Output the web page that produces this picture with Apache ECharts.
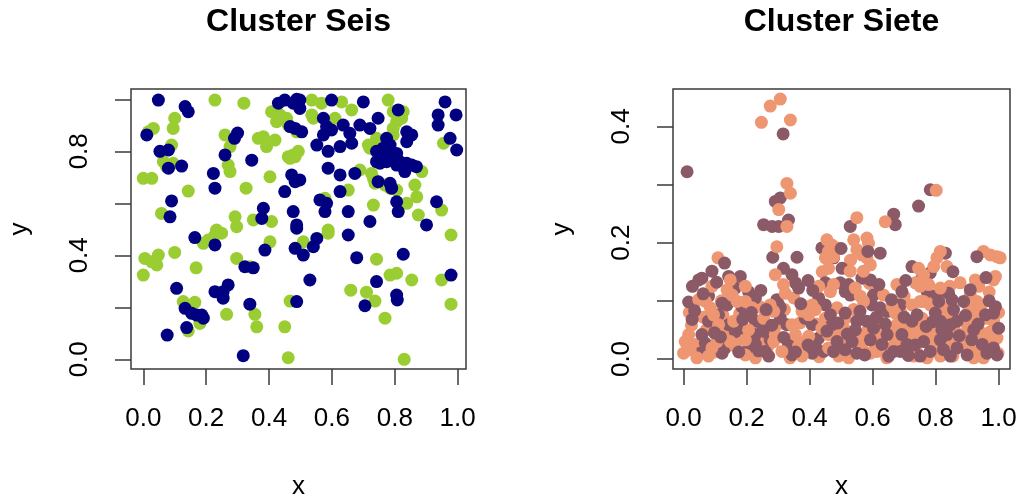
<!DOCTYPE html>
<html>
<head>
<meta charset="utf-8">
<script src="https://cdn.jsdelivr.net/npm/echarts@6/dist/echarts.min.js"></script>
<style>html,body{margin:0;padding:0;background:#fff;}#c{width:1019px;height:502px;}</style>
</head>
<body>
<div id="c"></div>
<script>
const titles = ['Cluster Seis', 'Cluster Siete'];
const xTicks = [0, 0.2, 0.4, 0.6, 0.8, 1.0];
const seisYTicks = [0, 0.2, 0.4, 0.6, 0.8, 1.0];
const seisYLabels = [0, 0.4, 0.8];
const sieteYTicks = [0, 0.1, 0.2, 0.3, 0.4];
const sieteYLabels = [0, 0.2, 0.4];

const seisNavy = [[0.048,0.997],[0.133,0.972],[0.143,0.952],[0.011,0.863],[0.053,0.80],[0.08,0.805],[0.08,0.735],[0.122,0.743],[0.30,0.87],[0.29,0.85],[0.26,0.786],[0.345,0.766],[0.223,0.715],[0.228,0.658],[0.09,0.609],[0.085,0.548],[0.382,0.581],[0.377,0.542],[0.43,0.985],[0.45,0.997],[0.488,1.0],[0.467,0.895],[0.472,0.709],[0.483,0.683],[0.45,0.645],[0.477,0.568],[0.488,0.517],
[0.498,0.997],[0.477,0.985],[0.498,0.965],[0.599,0.997],[0.70,0.99],[0.573,0.927],[0.483,0.888],[0.504,0.875],[0.583,0.895],[0.599,0.882],[0.573,0.863],[0.552,0.824],[0.636,0.901],[0.689,0.901],[0.721,0.888],[0.747,0.927],[0.657,0.869],[0.663,0.831],[0.626,0.818],[0.588,0.80],[0.811,0.959],[0.838,0.875],[0.854,0.863],[0.838,0.837],[0.774,0.85],[0.785,0.824],[0.742,0.80],[0.763,0.812],[0.785,0.786],[0.753,0.779],[0.742,0.76],[0.774,0.76],[0.806,0.792],[0.816,0.76],[0.838,0.754],[0.854,0.747],[0.869,0.741],[0.832,0.722],[0.806,0.747],[0.753,0.754],[0.96,0.99],[0.938,0.94],[0.995,0.94],[0.938,0.901],[0.976,0.85],[0.997,0.805],[0.588,0.735],[0.626,0.709],[0.673,0.715],[0.498,0.69],[0.626,0.645],[0.747,0.683],[0.785,0.677],[0.79,0.658],[0.806,0.606],[0.811,0.568],[0.562,0.613],[0.583,0.60],[0.578,0.568],[0.652,0.568],[0.933,0.606],[0.721,0.53],[0.901,0.517],
[0.164,0.468],[0.228,0.44],[0.387,0.42],[0.483,0.427],[0.488,0.504],[0.323,0.356],[0.35,0.352],[0.106,0.273],[0.228,0.26],[0.254,0.235],[0.27,0.286],[0.254,0.26],[0.339,0.212],[0.133,0.196],[0.154,0.177],[0.17,0.17],[0.191,0.158],[0.186,0.17],[0.138,0.122],[0.076,0.093],[0.318,0.014],[0.488,0.222],
[0.552,0.465],[0.541,0.433],[0.509,0.401],[0.652,0.478],[0.679,0.391],[0.827,0.404],[0.53,0.305],[0.742,0.299],[0.806,0.247],[0.808,0.228],[0.705,0.206],[0.979,0.324]];

const seisGreen = [[0.228,0.997],[0.32,0.985],[0.10,0.927],[0.095,0.888],[0.032,0.888],[0.016,0.875],[0.09,0.824],[0.064,0.76],[0.095,0.754],[0.074,0.741],[0.0,0.696],[0.027,0.696],[0.143,0.647],[0.058,0.561],[0.26,0.863],[0.276,0.818],[0.27,0.747],[0.276,0.722],[0.366,0.85],[0.382,0.856],[0.392,0.818],[0.419,0.843],[0.403,0.702],[0.327,0.658],[0.408,0.952],[0.435,0.94],[0.456,0.927],[0.424,0.914],[0.461,0.901],[0.461,0.779],[0.477,0.786],[0.292,0.548],[0.35,0.536],[0.408,0.53],[0.297,0.51],[0.233,0.497],
[0.536,0.997],[0.567,0.985],[0.631,0.99],[0.663,0.959],[0.779,0.997],[0.795,0.952],[0.827,0.952],[0.822,0.927],[0.806,0.914],[0.536,0.94],[0.541,0.927],[0.61,0.927],[0.488,0.875],[0.795,0.888],[0.795,0.863],[0.742,0.85],[0.732,0.824],[0.721,0.812],[0.716,0.824],[0.493,0.80],[0.483,0.779],[0.467,0.773],[0.955,0.831],[0.689,0.728],[0.726,0.715],[0.732,0.696],[0.737,0.677],[0.652,0.651],[0.769,0.67],[0.785,0.658],[0.806,0.651],[0.864,0.67],[0.87,0.625],[0.886,0.722],[0.578,0.619],[0.732,0.593],[0.838,0.60],[0.875,0.555],[0.949,0.574],[0.588,0.497],
[0.005,0.388],[0.027,0.375],[0.048,0.401],[0.043,0.363],[0.0,0.324],[0.10,0.411],[0.168,0.352],[0.191,0.446],[0.207,0.459],[0.228,0.478],[0.249,0.485],[0.403,0.452],[0.297,0.388],[0.339,0.356],[0.127,0.222],[0.164,0.219],[0.18,0.138],[0.143,0.109],[0.265,0.173],[0.355,0.173],[0.361,0.125],[0.45,0.125],[0.467,0.224],[0.461,0.006],
[0.588,0.485],[0.509,0.452],[0.742,0.385],[0.785,0.324],[0.806,0.331],[0.854,0.305],[0.949,0.305],[0.66,0.266],[0.71,0.258],[0.737,0.224],[0.769,0.158],[0.979,0.478],[0.979,0.212],[0.83,0.0]];

const sieteDark = [[0.316,0.387],[0.011,0.322],[0.291,0.271],[0.307,0.277],[0.254,0.231],[0.281,0.228],[0.302,0.228],[0.333,0.239],[0.783,0.291],[0.746,0.263],[0.529,0.228],[0.667,0.249],[0.672,0.231],
[0.283,0.175],[0.09,0.151],[0.058,0.139],[0.048,0.136],[0.143,0.142],[0.18,0.142],[0.164,0.122],[0.317,0.156],[0.344,0.145],[0.355,0.131],[0.365,0.122],[0.302,0.093],[0.439,0.191],[0.45,0.131],
[0.016,0.098],[0.027,0.068],[0.058,0.042],[0.069,0.027],[0.053,0.010],[0.079,0.065],[0.111,0.076],[0.122,0.096],[0.138,0.093],[0.143,0.059],[0.164,0.047],[0.18,0.053],[0.132,0.019],[0.122,0.010],[0.185,0.090],[0.196,0.076],[0.228,0.065],[0.249,0.059],[0.228,0.042],[0.206,0.019],[0.228,0.025],[0.259,0.047],[0.275,0.033],[0.259,0.013],[0.27,0.005],[0.307,0.070],[0.328,0.059],[0.333,0.025],[0.344,0.007],[0.386,0.070],[0.408,0.059],[0.429,0.105],[0.45,0.093],[0.429,0.036],[0.418,0.022],[0.408,0.010],[0.444,0.013],[0.471,0.059],[0.466,0.076],[0.296,0.102],[0.307,0.088],[0.206,0.116],[0.228,0.105],[0.079,0.108],
[0.624,0.182],[0.476,0.174],[0.503,0.156],[0.566,0.139],[0.593,0.136],[0.524,0.128],[0.497,0.131],[0.513,0.116],[0.529,0.110],[0.603,0.110],[0.598,0.093],[0.624,0.088],[0.646,0.082],[0.688,0.093],[0.725,0.159],[0.757,0.139],[0.783,0.148],[0.831,0.182],[0.773,0.116],[0.804,0.110],[0.841,0.113],[0.852,0.102],[0.889,0.099],[0.910,0.119],[0.931,0.176],[0.958,0.076],[0.984,0.079],[1.0,0.053],[0.984,0.019],[0.995,0.007],[0.963,0.010],[0.921,0.050],[0.915,0.033],[0.868,0.065],[0.847,0.059],[0.868,0.019],[0.9,0.007],[0.81,0.099],[0.799,0.079],[0.815,0.065],[0.836,0.042],[0.815,0.033],[0.762,0.030],[0.783,0.013],[0.751,0.005],[0.825,0.016],[0.847,0.005],[0.741,0.076],[0.725,0.065],[0.693,0.042],[0.709,0.025],[0.688,0.013],[0.646,0.042],[0.63,0.025],[0.651,0.005],[0.667,0.013],[0.603,0.053],[0.582,0.065],[0.593,0.033],[0.55,0.065],[0.545,0.050],[0.535,0.030],[0.55,0.010],[0.487,0.030],[0.476,0.013],[0.513,0.016],[0.513,0.079],[0.693,0.116],
[0.035,0.083],[0.062,0.112],[0.098,0.045],[0.117,0.038],[0.175,0.012],[0.188,0.068],[0.215,0.080],[0.238,0.014],[0.262,0.085],[0.28,0.058],[0.318,0.037],[0.355,0.012],[0.372,0.095],[0.395,0.024],[0.41,0.118],[0.455,0.048],[0.49,0.062],[0.52,0.043],[0.56,0.082],[0.575,0.007],[0.612,0.072],[0.64,0.060],[0.66,0.102],[0.7,0.072],[0.713,0.006],[0.735,0.024],[0.77,0.056],[0.79,0.064],[0.82,0.050],[0.857,0.085],[0.875,0.040],[0.895,0.075],[0.935,0.060],[0.948,0.025],[0.97,0.100],[0.99,0.090],[0.028,0.125],[0.105,0.132],[0.245,0.118],[0.395,0.135],[0.62,0.128],[0.705,0.135],[0.855,0.150],[0.96,0.140],[0.13,0.165],[0.36,0.175],[0.5,0.19],[0.585,0.185]];

const sieteSalmon = [[0.307,0.447],[0.275,0.435],[0.247,0.407],[0.339,0.411],[0.328,0.302],[0.339,0.285],[0.302,0.257],[0.328,0.228],[0.802,0.29],[0.55,0.243],[0.64,0.236],
[0.296,0.193],[0.109,0.174],[0.09,0.125],[0.148,0.136],[0.196,0.125],[0.291,0.145],[0.317,0.128],[0.323,0.113],[0.286,0.082],[0.455,0.205],[0.46,0.185],[0.45,0.174],[0.46,0.156],[0.429,0.125],
[0.048,0.102],[0.069,0.099],[0.016,0.042],[0.005,0.030],[0.0,0.010],[0.021,0.016],[0.042,0.002],[0.085,0.088],[0.095,0.076],[0.111,0.059],[0.106,0.030],[0.154,0.110],[0.17,0.099],[0.159,0.065],[0.148,0.030],[0.164,0.022],[0.09,0.019],[0.079,0.005],[0.196,0.099],[0.217,0.088],[0.206,0.050],[0.196,0.033],[0.196,0.007],[0.228,0.002],[0.254,0.070],[0.291,0.042],[0.286,0.030],[0.312,0.013],[0.344,0.059],[0.355,0.042],[0.365,0.022],[0.376,0.005],[0.386,0.090],[0.397,0.076],[0.408,0.093],[0.418,0.085],[0.439,0.053],[0.46,0.042],[0.397,0.039],[0.46,0.019],[0.476,0.013],[0.376,0.082],[0.275,0.093],[0.138,0.119],
[0.54,0.205],[0.582,0.208],[0.587,0.199],[0.55,0.188],[0.566,0.179],[0.582,0.174],[0.593,0.162],[0.471,0.196],[0.487,0.191],[0.476,0.176],[0.529,0.151],[0.571,0.151],[0.476,0.128],[0.466,0.116],[0.545,0.122],[0.561,0.108],[0.571,0.099],[0.635,0.110],[0.662,0.090],[0.672,0.079],[0.725,0.093],[0.751,0.099],[0.746,0.156],[0.762,0.145],[0.736,0.131],[0.751,0.125],[0.794,0.159],[0.804,0.174],[0.815,0.185],[0.836,0.159],[0.778,0.128],[0.815,0.122],[0.762,0.099],[0.783,0.093],[0.878,0.131],[0.926,0.136],[0.937,0.125],[0.910,0.110],[0.931,0.099],[0.952,0.185],[0.974,0.179],[0.995,0.176],[1.005,0.174],[0.99,0.142],[0.984,0.136],[0.942,0.088],[0.963,0.070],[0.984,0.065],[0.974,0.047],[0.963,0.033],[0.995,0.036],[0.952,0.002],[0.9,0.059],[0.889,0.042],[0.931,0.082],[0.905,0.088],[0.863,0.047],[0.884,0.022],[0.921,0.002],[0.931,0.013],[0.825,0.088],[0.836,0.070],[0.804,0.047],[0.783,0.042],[0.794,0.025],[0.773,0.002],[0.815,0.005],[0.736,0.059],[0.746,0.042],[0.72,0.047],[0.677,0.059],[0.704,0.056],[0.72,0.013],[0.73,0.005],[0.672,0.030],[0.656,0.019],[0.624,0.042],[0.614,0.013],[0.571,0.042],[0.566,0.019],[0.593,0.010],[0.513,0.070],[0.508,0.053],[0.503,0.036],[0.492,0.005],[0.524,0.002],[0.487,0.088],[0.677,0.128],
[0.025,0.058],[0.038,0.025],[0.062,0.072],[0.072,0.050],[0.1,0.012],[0.125,0.075],[0.13,0.045],[0.178,0.078],[0.185,0.035],[0.212,0.012],[0.24,0.035],[0.242,0.090],[0.268,0.022],[0.3,0.060],[0.32,0.085],[0.338,0.002],[0.37,0.062],[0.385,0.030],[0.42,0.060],[0.43,0.004],[0.45,0.070],[0.48,0.048],[0.5,0.022],[0.54,0.085],[0.555,0.035],[0.585,0.050],[0.605,0.028],[0.63,0.068],[0.645,0.002],[0.66,0.045],[0.69,0.080],[0.715,0.038],[0.742,0.010],[0.757,0.070],[0.792,0.106],[0.81,0.078],[0.845,0.028],[0.855,0.005],[0.878,0.068],[0.9,0.025],[0.915,0.070],[0.945,0.045],[0.97,0.020],[0.998,0.010],[1.0,0.080],[0.018,0.080],[0.12,0.100],[0.35,0.105],[0.44,0.150],[0.53,0.170],[0.59,0.130],[0.7,0.108],[0.845,0.125],[0.97,0.115]];

const FONT = "'Liberation Sans', Arial, sans-serif";
const LINE = '#3a3a3a';
const fmt = v => Number(v).toFixed(1);

function xAxisCfg(gridIndex, min, max) {
  return {
    type: 'value', gridIndex, min, max,
    name: 'x', nameLocation: 'middle', nameGap: 105,
    nameTextStyle: { fontSize: 26, fontFamily: FONT, color: '#000' },
    axisLine: { show: false, onZero: false },
    axisTick: { show: true, length: 16, customValues: xTicks, lineStyle: { color: LINE, width: 1.5 } },
    axisLabel: { show: true, margin: 37, customValues: xTicks, formatter: fmt, fontSize: 26, fontFamily: FONT, color: '#000' },
    splitLine: { show: false }
  };
}
function yAxisCfg(gridIndex, min, max, ticks, labels) {
  return {
    type: 'value', gridIndex, min, max,
    name: 'y', nameLocation: 'middle', nameGap: 98,
    nameTextStyle: { fontSize: 26, fontFamily: FONT, color: '#000' },
    axisLine: { show: false, onZero: false },
    axisTick: { show: true, length: 16, customValues: ticks, lineStyle: { color: LINE, width: 1.5 } },
    axisLabel: { show: true, rotate: 90, margin: 38, customValues: labels, formatter: fmt, fontSize: 26, fontFamily: FONT, color: '#000' },
    splitLine: { show: false }
  };
}
function scatter(data, color, xi) {
  return {
    type: 'scatter', data, xAxisIndex: xi, yAxisIndex: xi,
    symbol: 'circle', symbolSize: 13,
    itemStyle: { color, opacity: 1 },
    emphasis: { disabled: true }, silent: true
  };
}
const half = a => Math.ceil(a.length / 2);
const gridBase = { show: true, borderColor: LINE, borderWidth: 1.5, backgroundColor: 'transparent', containLabel: false, outerBoundsMode: 'none' };

const chart = echarts.init(document.getElementById('c'), null, { renderer: 'canvas' });
chart.setOption({
  animation: false,
  backgroundColor: '#fff',
  title: [
    { text: titles[0], left: 298.5, top: 6, padding: 0, textAlign: 'center', textStyle: { fontSize: 32, fontWeight: 'bold', fontFamily: FONT, color: '#000' } },
    { text: titles[1], left: 841.5, top: 6, padding: 0, textAlign: 'center', textStyle: { fontSize: 32, fontWeight: 'bold', fontFamily: FONT, color: '#000' } }
  ],
  grid: [
    Object.assign({ left: 131, top: 89, width: 335, height: 280 }, gridBase),
    Object.assign({ left: 673, top: 89, width: 337, height: 280 }, gridBase)
  ],
  xAxis: [ xAxisCfg(0, -0.0391, 1.0266), xAxisCfg(1, -0.0337, 1.0362) ],
  yAxis: [ yAxisCfg(0, -0.0373, 1.0396, seisYTicks, seisYLabels), yAxisCfg(1, -0.0172, 0.4643, sieteYTicks, sieteYLabels) ],
  series: [
    scatter(seisGreen, '#9ACD32', 0),
    scatter(seisNavy, '#000080', 0),
    scatter(sieteSalmon.slice(half(sieteSalmon)), '#EE9572', 1),
    scatter(sieteDark.slice(0, half(sieteDark)), '#8B5A66', 1),
    scatter(sieteSalmon.slice(0, half(sieteSalmon)), '#EE9572', 1),
    scatter(sieteDark.slice(half(sieteDark)), '#8B5A66', 1)
  ]
});
</script>
</body>
</html>
